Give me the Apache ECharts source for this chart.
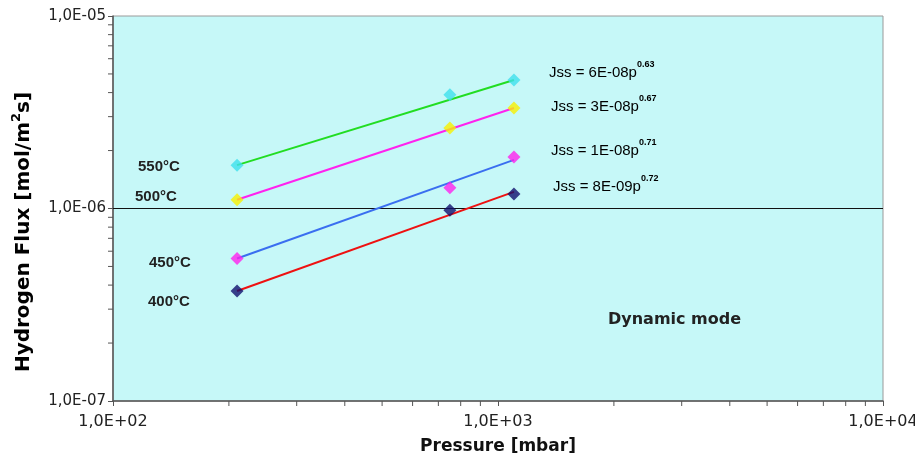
<!DOCTYPE html>
<html>
<head>
<meta charset="utf-8">
<script src="https://cdn.jsdelivr.net/npm/echarts@6/dist/echarts.min.js"></script>
<style>
  html, body { margin: 0; padding: 0; background: #fff; }
  #chart { width: 915px; height: 459px; }
</style>
</head>
<body>
<div id="chart"></div>
<script>
  // measured points (pressure in mbar, flux in mol/m2s)
  const pressure = [210, 750, 1100];
  const flux550 = [1.68e-6, 3.9e-6, 4.65e-6];
  const flux500 = [1.11e-6, 2.62e-6, 3.33e-6];
  const flux450 = [5.5e-7, 1.28e-6, 1.85e-6];
  const flux400 = [3.73e-7, 9.8e-7, 1.19e-6];

  // fitted power-law lines (end points)
  const fitPressure = [210, 1100];
  const fit550 = [1.68e-6, 4.65e-6];
  const fit500 = [1.11e-6, 3.33e-6];
  const fit450 = [5.5e-7, 1.79e-6];
  const fit400 = [3.73e-7, 1.22e-6];

  // minor ticks (log axes) and the horizontal reference line
  const xMinorTicks = [200, 300, 400, 500, 600, 700, 800, 900, 2000, 3000, 4000, 5000, 6000, 7000, 8000, 9000];
  const yMinorTicks = [2e-7, 3e-7, 4e-7, 5e-7, 6e-7, 7e-7, 8e-7, 9e-7, 2e-6, 3e-6, 4e-6, 5e-6, 6e-6, 7e-6, 8e-6, 9e-6];
  const refFlux = 1e-6;

  const tempLabels = ['550°C', '500°C', '450°C', '400°C'];
  const fitCoef = ['6E-08', '3E-08', '1E-08', '8E-09'];
  const fitExp = ['0.63', '0.67', '0.71', '0.72'];

  const ARIAL = 'Liberation Sans, Arial, sans-serif';
  const WIDE = 'DejaVu Sans, Verdana, sans-serif';

  const chart = echarts.init(document.getElementById('chart'));

  // 1,0E-05 style labels
  const sciLabel = (v) => {
    const e = Math.round(Math.log10(v));
    const sign = e < 0 ? '-' : '+';
    const abs = Math.abs(e);
    return '1,0E' + sign + (abs < 10 ? '0' + abs : abs);
  };

  const zip = (xs, ys) => xs.map((x, i) => [x, ys[i]]);

  const lineSeries = (data, color) => ({
    type: 'line',
    data: zip(fitPressure, data),
    symbol: 'none',
    lineStyle: { color: color, width: 2 },
    silent: true,
    z: 3
  });

  const pointSeries = (data, color) => ({
    type: 'scatter',
    data: zip(pressure, data),
    symbol: 'diamond',
    symbolSize: 13,
    itemStyle: { color: color },
    z: 4
  });

  const option = {
    animation: false,
    grid: {
      left: 113, right: 32, top: 16, bottom: 58,
      outerBoundsMode: 'none',
      show: true,
      backgroundColor: '#c6f8f8',
      borderColor: '#9a9a9a',
      borderWidth: 1
    },
    xAxis: {
      type: 'log',
      logBase: 10,
      min: 100,
      max: 10000,
      name: 'Pressure [mbar]',
      nameLocation: 'middle',
      nameGap: 37,
      nameTextStyle: { fontFamily: WIDE, fontSize: 17, fontWeight: 'bold', color: '#111' },
      axisLine: { lineStyle: { color: '#555', width: 1.5 } },
      axisTick: { length: 5, lineStyle: { color: '#555' } },
      axisLabel: { formatter: sciLabel, fontFamily: WIDE, fontSize: 16, color: '#222', margin: 13 },
      splitLine: { show: false }
    },
    yAxis: {
      type: 'log',
      logBase: 10,
      min: 1e-7,
      max: 1e-5,
      axisLine: { lineStyle: { color: '#555', width: 1.5 } },
      axisTick: { length: 5, lineStyle: { color: '#555' } },
      axisLabel: { formatter: sciLabel, fontFamily: WIDE, fontSize: 15, color: '#222', margin: 7 },
      splitLine: { show: false }
    },
    series: [
      lineSeries(fit550, '#22dd22'),
      lineSeries(fit500, '#ff22ee'),
      lineSeries(fit450, '#3a6ef0'),
      lineSeries(fit400, '#ee1111'),
      pointSeries(flux550, '#3ee0ec'),
      pointSeries(flux500, '#f8f000'),
      pointSeries(flux450, '#ff22ee'),
      pointSeries(flux400, '#10106e')
    ]
  };

  chart.setOption(option);

  // minor ticks, reference line and text, placed through the axes' own scales
  const graphics = [];
  const xLeft = chart.convertToPixel({ xAxisIndex: 0 }, 100);
  const xRight = chart.convertToPixel({ xAxisIndex: 0 }, 10000);
  const yBottom = chart.convertToPixel({ yAxisIndex: 0 }, 1e-7);
  const yRef = chart.convertToPixel({ yAxisIndex: 0 }, refFlux);

  graphics.push({
    type: 'line', z: 2,
    shape: { x1: xLeft, y1: yRef, x2: xRight, y2: yRef },
    style: { stroke: '#111', lineWidth: 1 }
  });
  xMinorTicks.forEach((v) => {
    const px = chart.convertToPixel({ xAxisIndex: 0 }, v);
    graphics.push({ type: 'line', shape: { x1: px, y1: yBottom, x2: px, y2: yBottom + 5 }, style: { stroke: '#555', lineWidth: 1 } });
  });
  yMinorTicks.forEach((v) => {
    const py = chart.convertToPixel({ yAxisIndex: 0 }, v);
    graphics.push({ type: 'line', shape: { x1: xLeft - 5, y1: py, x2: xLeft, y2: py }, style: { stroke: '#555', lineWidth: 1 } });
  });

  // y axis title (with superscript 2)
  graphics.push({
    type: 'text', x: 22, y: 232, rotation: Math.PI / 2,
    style: {
      text: '{a|Hydrogen Flux [mol/m}{s|2}{a|s]}',
      align: 'center', verticalAlign: 'middle',
      rich: {
        a: { fontFamily: WIDE, fontSize: 20, fontWeight: 'bold', color: '#111', lineHeight: 24, verticalAlign: 'bottom' },
        s: { fontFamily: WIDE, fontSize: 13, fontWeight: 'bold', color: '#111', lineHeight: 24, verticalAlign: 'top' }
      }
    }
  });

  // temperature labels
  const tempPos = [[138, 167], [135, 197], [149, 263], [148, 302]];
  tempLabels.forEach((t, i) => {
    graphics.push({
      type: 'text', x: tempPos[i][0], y: tempPos[i][1],
      style: { text: t, font: 'bold 15px ' + ARIAL, fill: '#222', verticalAlign: 'middle' }
    });
  });

  // fit equations
  const eqPos = [[549, 70], [551, 104], [551, 148], [553, 184]];
  fitCoef.forEach((c, i) => {
    graphics.push({
      type: 'text', x: eqPos[i][0], y: eqPos[i][1],
      style: {
        text: '{a|Jss = ' + c + 'p}{s|' + fitExp[i] + '}',
        verticalAlign: 'middle',
        rich: {
          a: { fontFamily: ARIAL, fontSize: 15, color: '#222', lineHeight: 20, verticalAlign: 'bottom' },
          s: { fontFamily: ARIAL, fontSize: 9, fontWeight: 'bold', color: '#222', lineHeight: 20, verticalAlign: 'top' }
        }
      }
    });
  });

  graphics.push({
    type: 'text', x: 608, y: 320,
    style: { text: 'Dynamic mode', font: 'bold 16px ' + WIDE, fill: '#222', verticalAlign: 'middle' }
  });

  chart.setOption({ graphic: graphics });
</script>
</body>
</html>
